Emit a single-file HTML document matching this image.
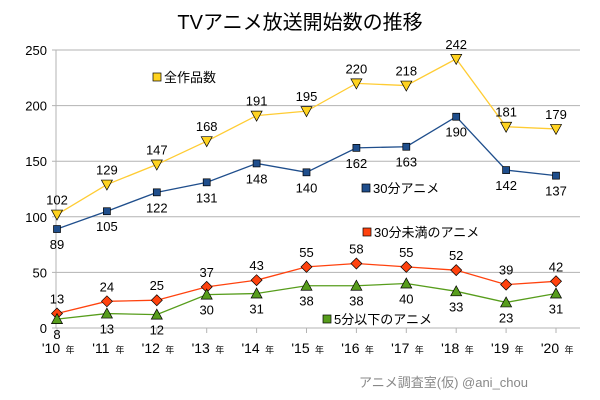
<!DOCTYPE html>
<html><head><meta charset="utf-8"><style>
body{margin:0;background:#fff;}
svg{display:block;font-family:"Liberation Sans","Noto Sans CJK JP",sans-serif;}
</style></head><body>
<svg id="c" width="600" height="400" viewBox="0 0 600 400">
<text x="300" y="29" text-anchor="middle" font-size="20" fill="#000">TVアニメ放送開始数の推移</text>
<text x="528" y="387" text-anchor="end" font-size="13" fill="#888">アニメ調査室(仮) @ani_chou</text>
</svg>
<script>
const years=["'10","'11","'12","'13","'14","'15","'16","'17","'18","'19","'20"];
const yTicks=[0,50,100,150,200,250];
const total=[102,129,147,168,191,195,220,218,242,181,179];
const min30=[89,105,122,131,148,140,162,163,190,142,137];
const under30=[13,24,25,37,43,55,58,55,52,39,42];
const under5=[8,13,12,30,31,38,38,40,33,23,31];
const svg=document.getElementById('c');
const NS='http://www.w3.org/2000/svg';
const X0=57,X1=556,Y0=328,Y1=50;
const xs=i=>X0+i*(X1-X0)/(years.length-1);
const ys=v=>Y0-(v/250)*(Y0-Y1);
function mk(t,a,p){const e=document.createElementNS(NS,t);for(const k in a)e.setAttribute(k,a[k]);(p||svg).appendChild(e);return e;}
yTicks.forEach(v=>{
 const g=mk('line',{x1:X0-5,x2:580,y1:ys(v),y2:ys(v),stroke:'#b3b3b3','stroke-width':1});
 
 
 const t=mk('text',{x:X0-10,y:ys(v)+5,'text-anchor':'end','font-size':13,fill:'#000'});t.textContent=v;
 
 
});
const ax=mk('line',{x1:X0-1,x2:X0-1,y1:Y1,y2:Y0,stroke:'#b3b3b3'});


years.forEach((y,i)=>{
 mk('line',{x1:xs(i),x2:xs(i),y1:Y0,y2:Y0+5,stroke:'#b3b3b3'});
 const t=mk('text',{x:xs(i)-6,y:Y0+25,'text-anchor':'middle','font-size':14,fill:'#000'});
 t.textContent=y;
 
 
 const n=mk('text',{x:xs(i)+13,y:Y0+25,'text-anchor':'middle','font-size':9,fill:'#000'});n.textContent='年';
});
function series(vals,color,fill,shape,above,name){
 const g=mk('g',{});
 
 
 mk('polyline',{points:vals.map((v,i)=>xs(i)+','+ys(v)).join(' '),fill:'none',stroke:color,'stroke-width':1.3},g);
 vals.forEach((v,i)=>{
  const x=xs(i),y=ys(v);let m;
  if(shape==='sq')m=mk('rect',{x:x-3.5,y:y-3.5,width:7,height:7,fill:fill,stroke:'#000','stroke-width':0.7},g);
  else if(shape==='dn')m=mk('polygon',{points:`${x-5.5},${y-4.5} ${x+5.5},${y-4.5} ${x},${y+5.5}`,fill:fill,stroke:'#000','stroke-width':0.7},g);
  else if(shape==='up')m=mk('polygon',{points:`${x-5.5},${y+4.5} ${x+5.5},${y+4.5} ${x},${y-5.5}`,fill:fill,stroke:'#000','stroke-width':0.7},g);
  else m=mk('polygon',{points:`${x-5.5},${y} ${x},${y-5.5} ${x+5.5},${y} ${x},${y+5.5}`,fill:fill,stroke:'#000','stroke-width':0.7},g);
  
  
  const t=mk('text',{x:x,y:above?y-10:y+20,'text-anchor':'middle','font-size':13,fill:'#000'},g);
  t.textContent=v;
  
  
 });
}
series(total,'#ffcc33','#ffd320','dn',true,'series-total');
series(min30,'#1f4e8c','#1f4e8c','sq',false,'series-30min');
series(under30,'#ff420e','#ff420e','dia',true,'series-under30');
series(under5,'#579d1c','#579d1c','up',false,'series-under5');
function legend(x,y,fill,label,name){
 const g=mk('g',{});
 
 
 mk('rect',{x:x,y:y-9,width:8,height:8,fill:fill,stroke:'#000','stroke-width':0.7},g);
 const t=mk('text',{x:x+11,y:y,'font-size':13,fill:'#000'},g);t.textContent=label;
}
legend(153,82,'#ffd320','全作品数','legend-total');
legend(362,193,'#1f4e8c','30分アニメ','legend-30min');
legend(363,237,'#ff420e','30分未満のアニメ','legend-under30');
legend(323,324,'#579d1c','5分以下のアニメ','legend-under5');
</script>
</body></html>
